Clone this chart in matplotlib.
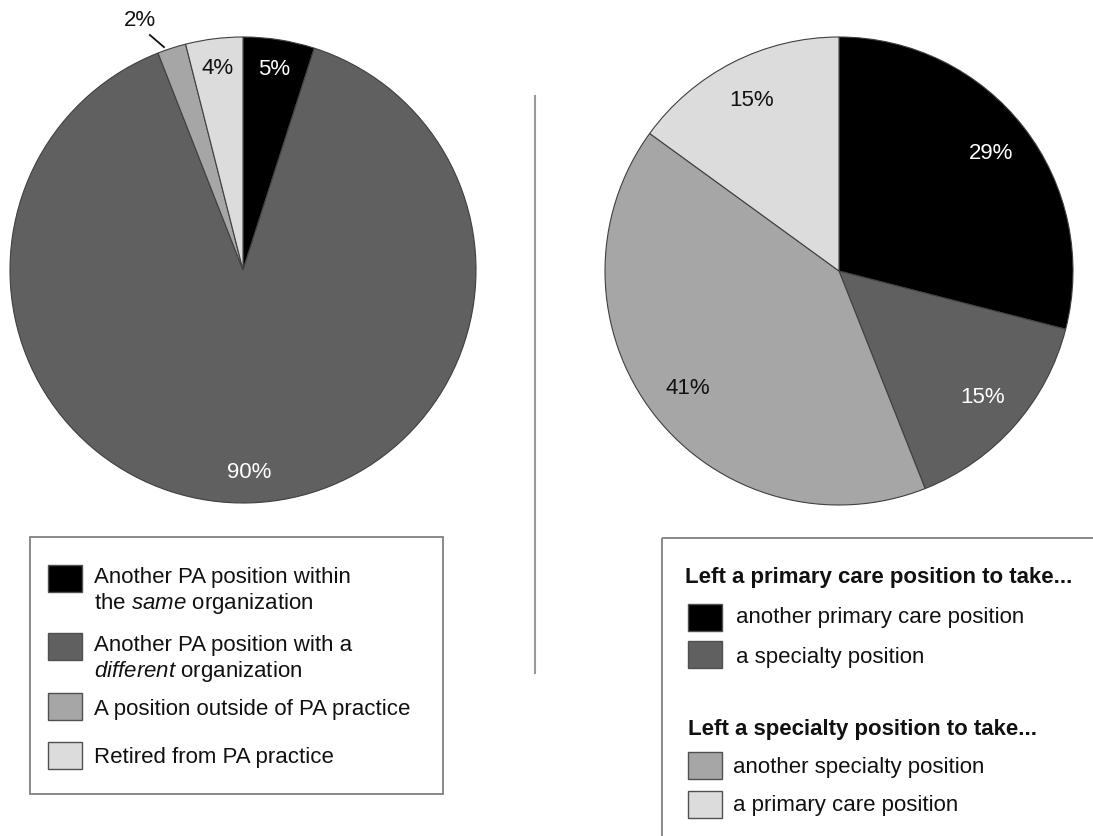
import numpy as np
import matplotlib
matplotlib.use("Agg")
import matplotlib.pyplot as plt
from matplotlib.patches import Rectangle

plt.rcParams['font.family'] = ['Liberation Sans', 'DejaVu Sans']
plt.rcParams['mathtext.fontset'] = 'custom'
plt.rcParams['mathtext.rm'] = 'Liberation Sans'
plt.rcParams['mathtext.it'] = 'Liberation Sans:italic'

# where PAs went after leaving a position (percent)
left_values = [5, 90, 2, 4]
left_labels = ['Another PA position within\nthe $\\mathit{same}$ organization',
               'Another PA position with a\n$\\mathit{different}$ organization',
               'A position outside of PA practice',
               'Retired from PA practice']

right_values = [29, 15, 41, 15]
right_headers = ['Left a primary care position to take...',
                 'Left a specialty position to take...']
right_labels = ['another primary care position', 'a specialty position',
                'another specialty position', 'a primary care position']

colors = ['#000000', '#606060', '#a6a6a6', '#dcdcdc']
text_colors = ['white', 'white', '#111111', '#111111']
FS = 16

W, H = 1093, 836
fig = plt.figure(figsize=(W / 100, H / 100), dpi=100)

# pixel-space overlay for legends and separator
bg = fig.add_axes([0, 0, 1, 1])
bg.set_xlim(0, W)
bg.set_ylim(H, 0)
bg.axis('off')


def pie_axes(cx, cy, r):
    s = r * 1.02
    return fig.add_axes([(cx - s) / W, (H - cy - s) / H, 2 * s / W, 2 * s / H])


def draw_pie(ax, values, dist):
    wedges, _ = ax.pie(values, colors=colors, startangle=90, counterclock=False,
                       wedgeprops=dict(edgecolor='#404040', linewidth=0.8))
    ax.set_xlim(-1.02, 1.02)
    ax.set_ylim(-1.02, 1.02)
    ax.set_aspect('equal')
    for w, v, tc in zip(wedges, values, text_colors):
        if v < 3:
            continue
        a = np.deg2rad((w.theta1 + w.theta2) / 2)
        ax.text(dist * np.cos(a), dist * np.sin(a), f'{v}%', color=tc,
                fontsize=FS, ha='center', va='center')
    return wedges


def polar(r, deg):
    a = np.deg2rad(deg)
    return r * np.cos(a), r * np.sin(a)


axl = pie_axes(243, 270, 233)
wl = draw_pie(axl, left_values, 0.87)
# small slice gets an outside label with a leader line
mid = (wl[2].theta1 + wl[2].theta2) / 2
x0, y0 = polar(1.015, mid + 1.7)
x1, y1 = polar(1.085, mid + 3.8)
axl.plot([x0, x1], [y0, y1], color='#111111', lw=1.3, clip_on=False)
xt, yt = polar(1.16, mid + 4.6)
axl.text(xt, yt, f'{left_values[2]}%', fontsize=FS, color='#111111',
         ha='center', va='center')

axr = pie_axes(839, 271, 234)
draw_pie(axr, right_values, 0.82)

# separator
bg.plot([535, 535], [96, 673], color='#999999', lw=1.5)

# left legend
bg.add_patch(Rectangle((30, 537), 413, 257, fill=False, edgecolor='#808080', lw=1.3))
sw_y = [565, 633, 693, 742]
text_y = [577, 645, 710, 758]
for sy, ty, lab, c in zip(sw_y, text_y, left_labels, colors):
    bg.add_patch(Rectangle((48, sy), 34, 27, facecolor=c, edgecolor='#505050', lw=1))
    for i, line in enumerate(lab.split('\n')):
        bg.text(94, ty + 26 * i, line, fontsize=FS, va='center', color='#111111')

# right legend (box runs off the page edge)
bg.add_patch(Rectangle((662, 538), 500, 400, fill=False, edgecolor='#808080', lw=1.3))
bg.text(685, 578, right_headers[0], fontsize=FS, fontweight='bold', va='center',
        color='#111111')
bg.text(688, 730, right_headers[1], fontsize=FS, fontweight='bold', va='center',
        color='#111111')
sw_y = [604, 641, 752, 791]
text_y = [617, 657, 768, 806]
txt_x = [736, 736, 733, 733]
for sy, ty, x, lab, c in zip(sw_y, text_y, txt_x, right_labels, colors):
    bg.add_patch(Rectangle((688, sy), 34, 27, facecolor=c, edgecolor='#505050', lw=1))
    bg.text(x, ty, lab, fontsize=FS, va='center', color='#111111')

fig.savefig('out.png', dpi=100)
